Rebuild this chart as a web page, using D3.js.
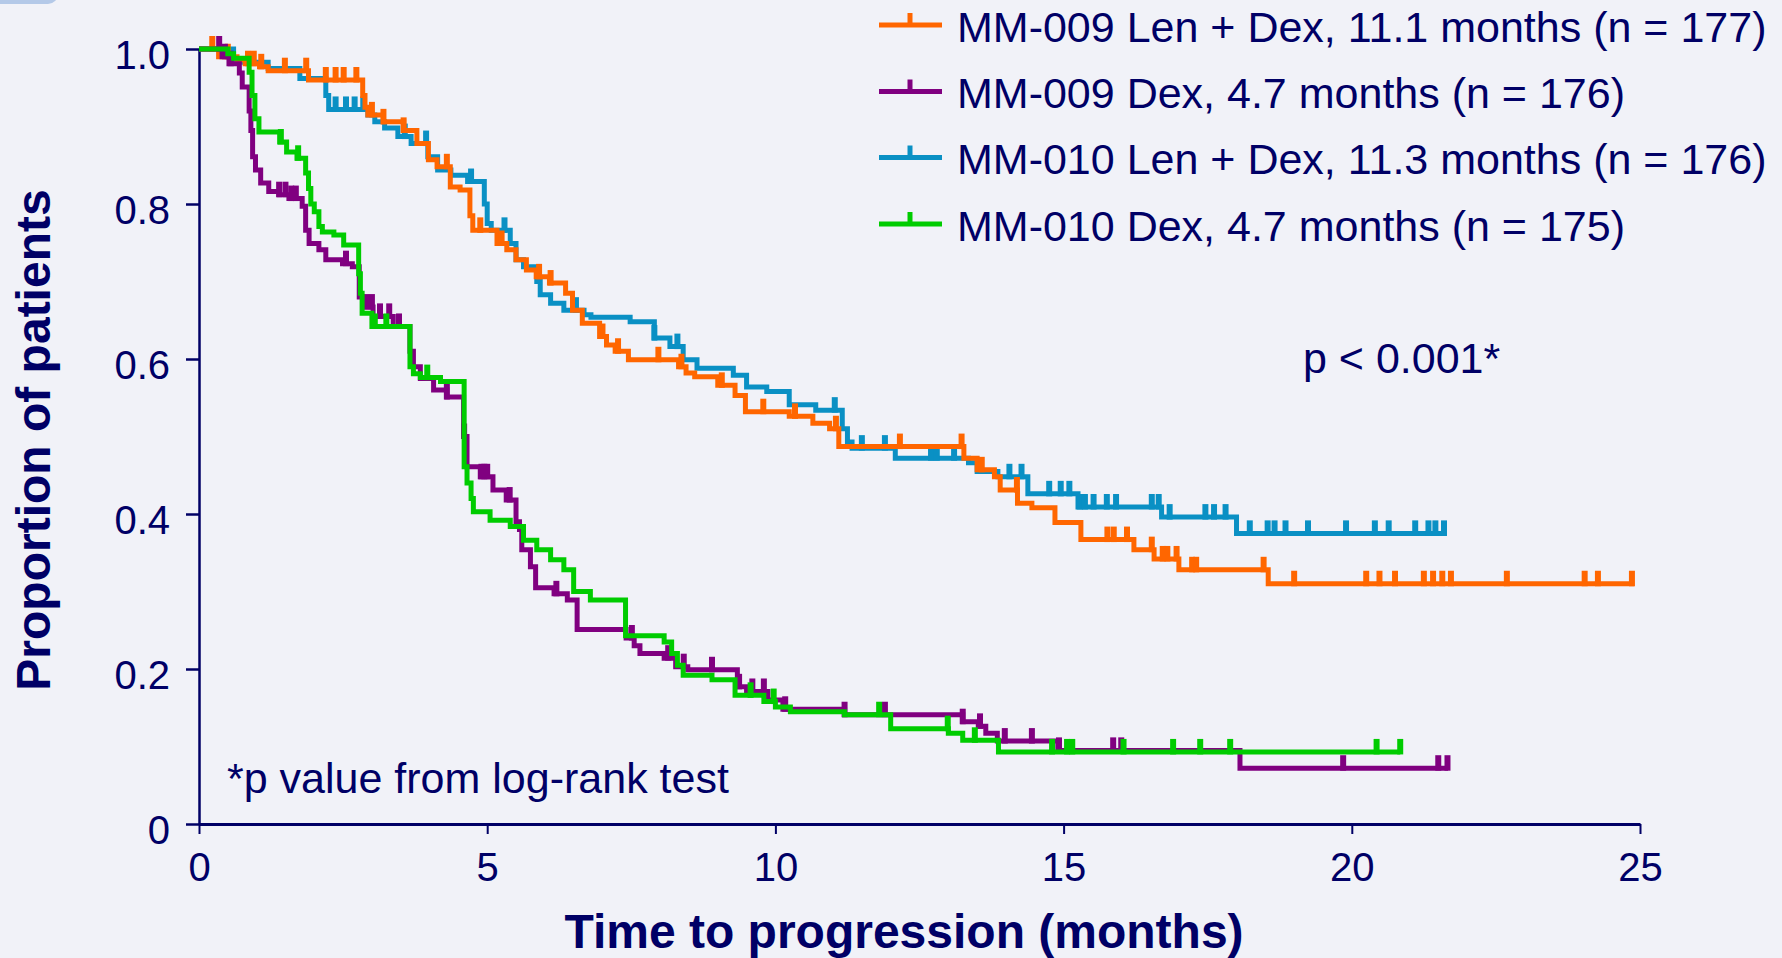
<!DOCTYPE html>
<html>
<head>
<meta charset="utf-8">
<script src="https://cdn.jsdelivr.net/npm/d3@7"></script>
<style>
  html, body { margin: 0; padding: 0; background: #f1f2f8; }
  svg { display: block; font-family: 'Liberation Sans', Arial, sans-serif; }
</style>
</head>
<body>
<svg width="1782" height="958"></svg>
<script>
const WIDTH = 1782;
const HEIGHT = 958;
const NAVY = '#000066';
const LINE_WIDTH = 5;
const CENSOR_HEIGHT = 13;

// ---------- data ----------

const xTicks = [0, 5, 10, 15, 20, 25];
const yTicks = [0, 0.2, 0.4, 0.6, 0.8, 1.0];
const yTickLabels = ['0', '0.2', '0.4', '0.6', '0.8', '1.0'];

const legendLabels = [
  'MM-009 Len + Dex, 11.1 months (n = 177)',
  'MM-009 Dex, 4.7 months (n = 176)',
  'MM-010 Len + Dex, 11.3 months (n = 176)',
  'MM-010 Dex, 4.7 months (n = 175)',
];
const seriesColors = ['#ff6600', '#800080', '#0a90c4', '#00cc00'];

// MM-009 Len + Dex
const mm009LenTime = [0, 0.34, 0.66, 0.8, 1.05, 1.2, 1.9, 2.84, 2.88, 2.93, 3.2, 3.55, 3.78, 3.98, 4.13, 4.36, 4.53, 4.7, 4.75, 5.17, 5.34, 5.5, 5.68, 5.85, 6.08, 6.36, 6.48, 6.65, 6.95, 7.07, 7.22, 7.45, 8.32, 8.45, 8.6, 9.0, 9.3, 9.48, 10.24, 10.65, 10.94, 11.1, 13.27, 13.5, 13.8, 13.9, 14.2, 14.45, 14.85, 15.3, 16.22, 16.57, 17.0, 18.55];
const mm009LenSurv = [1, 0.99, 0.986, 0.981, 0.977, 0.972, 0.96, 0.94, 0.925, 0.915, 0.906, 0.895, 0.878, 0.857, 0.848, 0.822, 0.818, 0.785, 0.766, 0.749, 0.741, 0.728, 0.715, 0.706, 0.698, 0.685, 0.663, 0.646, 0.629, 0.618, 0.61, 0.599, 0.59, 0.582, 0.577, 0.566, 0.553, 0.532, 0.526, 0.517, 0.51, 0.487, 0.472, 0.457, 0.448, 0.431, 0.414, 0.408, 0.389, 0.367, 0.354, 0.342, 0.328, 0.31];
const mm009LenCensor = [0.23, 0.5, 0.85, 0.95, 1.08, 1.49, 1.86, 2.2, 2.37, 2.51, 2.73, 3.0, 3.2, 3.55, 4.3, 4.88, 5.25, 5.9, 6.1, 7.0, 7.27, 7.97, 8.37, 9.07, 9.79, 10.34, 11.05, 12.16, 13.23, 13.58, 14.19, 15.76, 15.87, 16.1, 16.53, 16.72, 16.8, 16.96, 17.23, 17.3, 18.47, 19.0, 20.25, 20.48, 20.75, 21.25, 21.41, 21.57, 21.72, 22.69, 24.04, 24.27, 24.86];
const mm009LenEnd = 24.9;

// MM-009 Dex
const mm009DexTime = [0, 0.4, 0.52, 0.7, 0.75, 0.87, 0.9, 0.93, 0.98, 1.07, 1.21, 1.39, 1.56, 1.79, 1.85, 1.91, 2.08, 2.2, 2.49, 2.66, 2.78, 2.84, 3.02, 3.37, 3.66, 3.72, 3.84, 4.07, 4.3, 4.59, 4.65, 4.88, 5.1, 5.33, 5.5, 5.56, 5.6, 5.75, 5.84, 6.16, 6.39, 6.56, 7.41, 7.55, 7.65, 8.07, 8.27, 8.48, 9.34, 9.5, 9.87, 10.13, 11.2, 13.25, 13.52, 13.65, 13.85, 14.9, 18.06];
const mm009DexSurv = [1, 0.99, 0.981, 0.969, 0.951, 0.92, 0.895, 0.861, 0.844, 0.827, 0.816, 0.812, 0.807, 0.797, 0.766, 0.749, 0.741, 0.728, 0.723, 0.719, 0.68, 0.667, 0.655, 0.642, 0.61, 0.59, 0.575, 0.56, 0.551, 0.5, 0.461, 0.448, 0.431, 0.418, 0.39, 0.38, 0.354, 0.332, 0.305, 0.297, 0.289, 0.251, 0.24, 0.23, 0.22, 0.214, 0.203, 0.199, 0.177, 0.171, 0.16, 0.148, 0.141, 0.132, 0.126, 0.117, 0.107, 0.095, 0.072];
const mm009DexCensor = [0.35, 0.45, 0.55, 1.39, 1.5, 1.6, 1.68, 2.55, 2.9, 3.0, 3.14, 3.3, 3.47, 4.3, 4.6, 4.9, 4.95, 5.0, 5.39, 6.2, 7.51, 8.14, 8.41, 8.9, 9.37, 9.6, 9.8, 10.17, 11.2, 11.9, 13.25, 13.55, 13.98, 14.45, 14.92, 15.86, 16.0, 19.85, 21.5, 21.66];
const mm009DexEnd = 21.67;

// MM-010 Len + Dex
const mm010LenTime = [0, 0.6, 1.2, 1.75, 2.2, 2.25, 2.93, 3.05, 3.22, 3.45, 3.68, 3.97, 4.14, 4.37, 4.66, 4.95, 5.0, 5.07, 5.4, 5.5, 5.63, 5.86, 5.92, 6.1, 6.33, 6.68, 6.8, 7.48, 7.9, 8.17, 8.4, 8.64, 9.27, 9.5, 9.85, 10.24, 10.7, 11.16, 11.25, 11.33, 12.08, 13.35, 13.5, 13.86, 14.38, 15.25, 16.7, 18.0];
const mm010LenSurv = [1, 0.983, 0.975, 0.962, 0.94, 0.922, 0.915, 0.906, 0.898, 0.887, 0.878, 0.861, 0.844, 0.837, 0.829, 0.8, 0.775, 0.766, 0.749, 0.728, 0.719, 0.7, 0.683, 0.672, 0.663, 0.657, 0.654, 0.648, 0.627, 0.616, 0.599, 0.588, 0.579, 0.564, 0.558, 0.541, 0.534, 0.51, 0.493, 0.485, 0.472, 0.466, 0.455, 0.448, 0.426, 0.409, 0.396, 0.375];
const mm010LenCensor = [2.37, 2.55, 2.7, 2.85, 3.57, 3.94, 4.72, 5.3, 6.54, 7.9, 8.3, 11.03, 11.5, 11.9, 12.7, 12.8, 13.1, 14.06, 14.27, 14.75, 14.95, 15.1, 15.28, 15.37, 15.52, 15.75, 15.91, 16.53, 16.65, 16.84, 17.46, 17.61, 17.81, 18.23, 18.54, 18.66, 18.85, 19.24, 19.9, 20.4, 20.64, 21.1, 21.33, 21.45, 21.6];
const mm010LenEnd = 21.65;

// MM-010 Dex
const mm010DexTime = [0, 0.5, 0.6, 0.87, 0.92, 0.97, 1.04, 1.4, 1.52, 1.7, 1.85, 1.9, 1.94, 2.0, 2.08, 2.14, 2.34, 2.51, 2.77, 2.8, 2.83, 3.0, 3.66, 3.72, 3.84, 4.19, 4.6, 4.65, 4.72, 4.76, 5.05, 5.4, 5.63, 5.86, 6.1, 6.33, 6.5, 6.79, 7.4, 8.07, 8.2, 8.3, 8.4, 8.9, 9.3, 9.8, 10.0, 10.26, 11.2, 12.0, 13.0, 13.25, 13.87];
const mm010DexSurv = [1, 0.994, 0.988, 0.97, 0.94, 0.91, 0.893, 0.88, 0.867, 0.859, 0.84, 0.82, 0.8, 0.79, 0.771, 0.764, 0.76, 0.747, 0.71, 0.685, 0.659, 0.642, 0.59, 0.581, 0.576, 0.571, 0.461, 0.44, 0.42, 0.403, 0.392, 0.384, 0.366, 0.354, 0.341, 0.328, 0.3, 0.289, 0.243, 0.235, 0.22, 0.205, 0.192, 0.186, 0.166, 0.158, 0.151, 0.145, 0.141, 0.123, 0.117, 0.108, 0.093];
const mm010DexCensor = [1.42, 1.72, 3.05, 3.25, 3.96, 9.57, 9.97, 11.8, 12.99, 13.46, 14.8, 15.06, 15.15, 16.04, 16.9, 17.37, 17.89, 20.43, 20.84];
const mm010DexEnd = 20.84;

// drawing order: back to front
const series = [
  { label: 2, time: mm010LenTime, surv: mm010LenSurv, censor: mm010LenCensor, end: mm010LenEnd },
  { label: 0, time: mm009LenTime, surv: mm009LenSurv, censor: mm009LenCensor, end: mm009LenEnd },
  { label: 1, time: mm009DexTime, surv: mm009DexSurv, censor: mm009DexCensor, end: mm009DexEnd },
  { label: 3, time: mm010DexTime, surv: mm010DexSurv, censor: mm010DexCensor, end: mm010DexEnd },
];

// ---------- scales ----------

const x = d3.scaleLinear().domain([0, 25]).range([199, 1640]);
const y = d3.scaleLinear().domain([0, 1]).range([824, 49]);

const svg = d3.select('svg').attr('viewBox', [0, 0, WIDTH, HEIGHT]);

// corner decoration of the slide
svg.append('rect')
  .attr('x', -20).attr('y', -20)
  .attr('width', 78).attr('height', 24)
  .attr('rx', 10)
  .attr('fill', '#b4c9e8');

// ---------- axes ----------

const xAxis = svg.append('g')
  .attr('transform', `translate(0,${y(0)})`)
  .call(d3.axisBottom(x).tickValues(xTicks).tickSize(10).tickSizeOuter(0).tickFormat(d3.format('d')));

xAxis.select('.domain').attr('stroke', NAVY).attr('stroke-width', 3);
xAxis.selectAll('.tick line').attr('stroke', NAVY).attr('stroke-width', 2);
xAxis.selectAll('.tick text')
  .attr('y', 57).attr('dy', 0)
  .attr('fill', NAVY).attr('font-size', 40);

const yAxis = svg.append('g')
  .attr('transform', `translate(${x(0)},0)`)
  .call(d3.axisLeft(y).tickValues(yTicks).tickSize(13).tickSizeOuter(0).tickFormat((d, i) => yTickLabels[i]));

yAxis.select('.domain').attr('stroke', NAVY).attr('stroke-width', 2.5);
yAxis.selectAll('.tick line').attr('stroke', NAVY).attr('stroke-width', 2.5);
yAxis.selectAll('.tick text')
  .attr('x', -29).attr('y', 0).attr('dy', 19)
  .attr('fill', NAVY).attr('font-size', 40);

svg.selectAll('g').attr('font-family', null);

// ---------- curves ----------

const line = d3.line()
  .curve(d3.curveStepAfter)
  .x(d => x(d[0]))
  .y(d => y(d[1]));

const survAt = (s, t) => {
  const i = d3.bisectRight(s.time, t) - 1;
  return s.surv[Math.max(0, i)];
};

const curves = svg.append('g');

series.forEach(s => {
  const color = seriesColors[s.label];
  const pts = s.time.map((t, i) => [t, s.surv[i]]);
  pts.push([s.end, s.surv[s.surv.length - 1]]);

  curves.append('path')
    .datum(pts)
    .attr('d', line)
    .attr('fill', 'none')
    .attr('stroke', color)
    .attr('stroke-width', LINE_WIDTH)
    .attr('stroke-linejoin', 'miter');

  curves.append('g')
    .selectAll('line')
    .data(s.censor)
    .join('line')
    .attr('x1', t => x(t))
    .attr('x2', t => x(t))
    .attr('y1', t => y(survAt(s, t)) + LINE_WIDTH / 2)
    .attr('y2', t => y(survAt(s, t)) - CENSOR_HEIGHT)
    .attr('stroke', color)
    .attr('stroke-width', 6);
});

// ---------- legend ----------

const legendY = [25, 91.5, 157.5, 224];

const legend = svg.append('g');
legendLabels.forEach((label, i) => {
  const g = legend.append('g').attr('transform', `translate(0,${legendY[i]})`);
  g.append('line')
    .attr('x1', 879).attr('x2', 942)
    .attr('stroke', seriesColors[i]).attr('stroke-width', 5);
  g.append('line')
    .attr('x1', 910).attr('x2', 910)
    .attr('y1', 0).attr('y2', -12)
    .attr('stroke', seriesColors[i]).attr('stroke-width', 5);
  g.append('text')
    .attr('x', 957).attr('y', 16.5)
    .attr('fill', NAVY).attr('font-size', 43)
    .text(label);
});

// ---------- text ----------

svg.append('text')
  .attr('x', 1303).attr('y', 373)
  .attr('fill', NAVY).attr('font-size', 43)
  .text('p < 0.001*');

svg.append('text')
  .attr('x', 227).attr('y', 793)
  .attr('fill', NAVY).attr('font-size', 43)
  .text('*p value from log-rank test');

svg.append('text')
  .attr('x', 904).attr('y', 948)
  .attr('text-anchor', 'middle')
  .attr('fill', NAVY).attr('font-size', 48).attr('font-weight', 'bold')
  .text('Time to progression (months)');

svg.append('text')
  .attr('transform', 'translate(50,440) rotate(-90)')
  .attr('text-anchor', 'middle')
  .attr('fill', NAVY).attr('font-size', 48).attr('font-weight', 'bold')
  .text('Proportion of patients');
</script>
</body>
</html>
